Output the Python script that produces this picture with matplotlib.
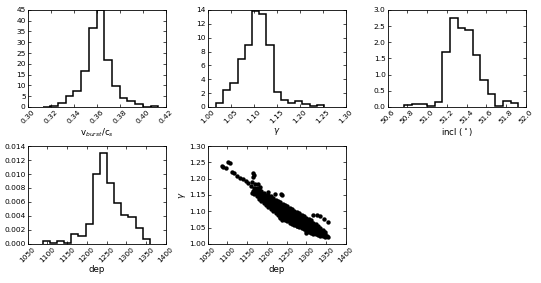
import numpy as np
import matplotlib
matplotlib.use('Agg')
import matplotlib.pyplot as plt

# histogram heights
vb_vals = [0.2, 0.3, 1.7, 5.0, 7.4, 16.7, 36.5, 44.8, 21.9, 9.7, 4.1, 2.7, 1.3, 0.2, 0.5]
vb_range = (0.313, 0.4136)
gam_vals = [0.6, 2.5, 3.4, 6.9, 9.0, 13.9, 13.4, 9.0, 2.1, 1.0, 0.6, 0.8, 0.5, 0.15, 0.35]
gam_range = (1.018, 1.253)
incl_vals = [0.07, 0.08, 0.09, 0.03, 0.15, 1.7, 2.75, 2.45, 2.37, 1.62, 0.82, 0.4, 0.02, 0.17, 0.13]
incl_range = (50.77, 51.925)
dep_vals = [0.0004, 0.0002, 0.0004, 0.0001, 0.0014, 0.0011, 0.0028, 0.0100, 0.0130,
            0.0087, 0.0059, 0.0042, 0.0038, 0.0023, 0.0007]
dep_range = (1088, 1360)

# scatter of gamma vs dep: dense band (columns) plus scattered points
band_dep = [1168, 1174, 1180, 1186, 1192, 1198, 1204, 1210, 1216, 1222, 1228, 1234, 1240,
            1246, 1252, 1258, 1264, 1270, 1276, 1282, 1288, 1294, 1300, 1306, 1312, 1318,
            1324, 1330, 1336, 1342, 1348]
band_gam = [
    [1.154, 1.162, 1.170],
    [1.147, 1.155, 1.163, 1.170],
    [1.137, 1.145, 1.153, 1.161, 1.167],
    [1.131, 1.139, 1.147, 1.155, 1.162],
    [1.124, 1.132, 1.140, 1.148, 1.156],
    [1.118, 1.126, 1.134, 1.142, 1.150],
    [1.113, 1.121, 1.129, 1.137, 1.145, 1.151],
    [1.107, 1.115, 1.123, 1.131, 1.139, 1.146],
    [1.100, 1.108, 1.116, 1.124, 1.132, 1.140],
    [1.094, 1.102, 1.110, 1.118, 1.126, 1.134],
    [1.088, 1.096, 1.104, 1.112, 1.120, 1.128, 1.133],
    [1.082, 1.090, 1.098, 1.106, 1.114, 1.122, 1.128],
    [1.078, 1.086, 1.094, 1.102, 1.110, 1.118, 1.123],
    [1.074, 1.082, 1.090, 1.098, 1.106, 1.114, 1.119],
    [1.070, 1.078, 1.086, 1.094, 1.102, 1.110, 1.115],
    [1.065, 1.073, 1.081, 1.089, 1.097, 1.105, 1.110],
    [1.061, 1.069, 1.077, 1.085, 1.093, 1.101, 1.106],
    [1.058, 1.066, 1.074, 1.082, 1.090, 1.098, 1.102],
    [1.055, 1.063, 1.071, 1.079, 1.087, 1.095, 1.099],
    [1.052, 1.060, 1.068, 1.076, 1.084, 1.092, 1.095],
    [1.048, 1.056, 1.064, 1.072, 1.080, 1.088],
    [1.045, 1.053, 1.061, 1.069, 1.077, 1.085],
    [1.041, 1.049, 1.057, 1.065, 1.073, 1.080],
    [1.038, 1.046, 1.054, 1.062, 1.070, 1.076],
    [1.035, 1.043, 1.051, 1.059, 1.067, 1.072],
    [1.032, 1.040, 1.048, 1.056, 1.064],
    [1.029, 1.037, 1.045, 1.053, 1.060],
    [1.026, 1.034, 1.042, 1.050, 1.056],
    [1.024, 1.032, 1.040, 1.048],
    [1.023, 1.031, 1.039, 1.044],
    [1.022, 1.030, 1.037],
]
extra_dep = [1085.5, 1089.7, 1095.6, 1102, 1106.6, 1111, 1117, 1125, 1132, 1140, 1147, 1153,
             1164, 1167.5, 1166, 1161.6, 1170, 1159, 1164, 1162, 1203, 1236, 1239, 1221,
             1318, 1326, 1335, 1345, 1356, 1233, 1238, 1356, 1352, 1300, 1276, 1178, 1183]
extra_gam = [1.240, 1.236, 1.232, 1.250, 1.247, 1.219, 1.216, 1.207, 1.202, 1.199, 1.192, 1.188,
             1.217, 1.211, 1.204, 1.190, 1.183, 1.178, 1.162, 1.156, 1.160, 1.152, 1.150, 1.152,
             1.090, 1.090, 1.085, 1.075, 1.066, 1.080, 1.074, 1.021, 1.025, 1.035, 1.055, 1.185, 1.176]

sc_dep = []
sc_gam = []
for d, gs in zip(band_dep, band_gam):
    sc_dep += [d] * len(gs)
    sc_gam += gs
sc_dep += extra_dep
sc_gam += extra_gam

plt.rcParams['font.family'] = 'DejaVu Sans'
plt.rcParams['axes.linewidth'] = 0.6

fig = plt.figure(figsize=(5.41, 2.83), dpi=100)
W, H = 0.255, 0.343
lefts = [0.0512, 0.384, 0.7166]
ax1 = fig.add_axes([lefts[0], 0.622, W, H])
ax2 = fig.add_axes([lefts[1], 0.622, W, H])
ax3 = fig.add_axes([lefts[2], 0.622, W, H])
ax4 = fig.add_axes([lefts[0], 0.138, W, 0.346])
ax5 = fig.add_axes([lefts[1], 0.138, W, 0.346])

hists = [(ax1, vb_vals, vb_range), (ax2, gam_vals, gam_range),
         (ax3, incl_vals, incl_range), (ax4, dep_vals, dep_range)]
for ax, vals, rng in hists:
    edges = np.linspace(rng[0], rng[1], len(vals) + 1)
    ax.stairs(vals, edges, baseline=0, color='k', lw=1.1)

ax5.scatter(sc_dep, sc_gam, s=10, c='k', linewidths=0)

ax1.set_xlim(0.30, 0.42); ax1.set_ylim(0, 45)
ax1.set_xticks(np.arange(0.30, 0.4201, 0.02)); ax1.set_yticks(np.arange(0, 46, 5))
ax1.set_xlabel(r'v$_{burst}$/c$_s$')
ax2.set_xlim(1.00, 1.30); ax2.set_ylim(0, 14)
ax2.set_xticks(np.arange(1.00, 1.301, 0.05)); ax2.set_yticks(np.arange(0, 15, 2))
ax2.set_xlabel(r'$\gamma$')
ax3.set_xlim(50.6, 52.0); ax3.set_ylim(0, 3.0)
ax3.set_xticks(np.arange(50.6, 52.01, 0.2)); ax3.set_yticks(np.arange(0, 3.01, 0.5))
ax3.set_xlabel(r'incl ($^\circ$)')
ax4.set_xlim(1050, 1400); ax4.set_ylim(0, 0.014)
ax4.set_xticks(np.arange(1050, 1401, 50)); ax4.set_yticks(np.arange(0, 0.01401, 0.002))
ax4.set_xlabel('dep')
ax5.set_xlim(1050, 1400); ax5.set_ylim(1.00, 1.30)
ax5.set_xticks(np.arange(1050, 1401, 50)); ax5.set_yticks(np.arange(1.00, 1.301, 0.05))
ax5.set_xlabel('dep'); ax5.set_ylabel(r'$\gamma$', labelpad=1)

ax1.xaxis.set_major_formatter(matplotlib.ticker.FormatStrFormatter('%.2f'))
ax2.xaxis.set_major_formatter(matplotlib.ticker.FormatStrFormatter('%.2f'))
ax3.xaxis.set_major_formatter(matplotlib.ticker.FormatStrFormatter('%.1f'))
ax3.yaxis.set_major_formatter(matplotlib.ticker.FormatStrFormatter('%.1f'))
ax4.yaxis.set_major_formatter(matplotlib.ticker.FormatStrFormatter('%.3f'))
ax5.yaxis.set_major_formatter(matplotlib.ticker.FormatStrFormatter('%.2f'))

for ax in [ax1, ax2, ax3, ax4, ax5]:
    ax.tick_params(direction='in', top=True, right=True, labelsize=5.4,
                   length=2.5, width=0.5, pad=1.5)
    for lab in ax.get_xticklabels():
        lab.set_rotation(45)
    ax.xaxis.label.set_size(6.2)
    ax.yaxis.label.set_size(6.2)
    ax.xaxis.labelpad = 1

fig.savefig('out.png', dpi=100)
